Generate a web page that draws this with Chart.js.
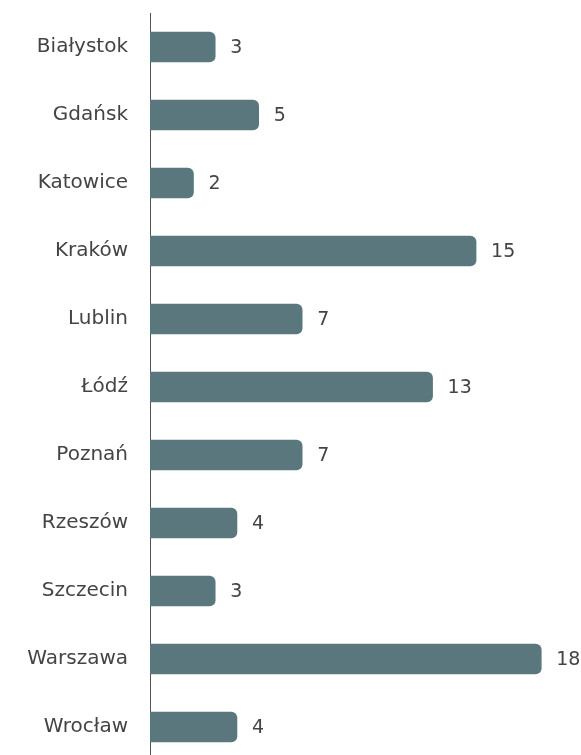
<!DOCTYPE html>
<html>
<head>
<meta charset="utf-8">
<script src="https://cdn.jsdelivr.net/npm/chart.js@4"></script>
<style>
  html, body { margin: 0; padding: 0; background: #fff; overflow: hidden; }
</style>
</head>
<body>
<canvas id="cityChart" width="581" height="770"></canvas>
<script>
const cities = ['Białystok', 'Gdańsk', 'Katowice', 'Kraków', 'Lublin', 'Łódź', 'Poznań', 'Rzeszów', 'Szczecin', 'Warszawa', 'Wrocław'];
const counts = [3, 5, 2, 15, 7, 13, 7, 4, 3, 18, 4];

const labelFont = '"DejaVu Sans", sans-serif';

// draws the numbers to the right of each bar
const valueLabels = {
    id: 'valueLabels',
    afterDatasetsDraw(chart) {
        const ctx = chart.ctx;
        const meta = chart.getDatasetMeta(0);
        ctx.save();
        ctx.font = '19px ' + labelFont;
        ctx.fillStyle = '#444444';
        ctx.textAlign = 'left';
        ctx.textBaseline = 'middle';
        meta.data.forEach((bar, i) => {
            ctx.fillText(String(counts[i]), bar.x + 15, bar.y + 1);
        });
        ctx.restore();
    }
};

new Chart(document.getElementById('cityChart').getContext('2d'), {
    type: 'bar',
    data: {
        labels: cities,
        datasets: [{
            data: counts,
            backgroundColor: '#5a777d',
            borderRadius: 6,
            borderSkipped: 'start',
            barThickness: 30
        }]
    },
    plugins: [valueLabels],
    options: {
        indexAxis: 'y',
        responsive: false,
        animation: false,
        layout: { padding: { top: 13, right: 18, bottom: 9, left: 0 } },
        plugins: {
            legend: { display: false },
            tooltip: { enabled: false }
        },
        scales: {
            x: {
                display: false,
                min: 0,
                max: 19
            },
            y: {
                afterFit: function(scale) {
                    scale.width = 150;
                    // tick padding would otherwise push the chart area in
                    scale.paddingTop = 0;
                    scale.paddingBottom = 0;
                },
                grid: { display: false, drawTicks: false },
                border: { display: true, color: '#555555', width: 1 },
                ticks: {
                    color: '#444444',
                    padding: 22,
                    font: { family: labelFont, size: 20 }
                }
            }
        }
    }
});
</script>
</body>
</html>
